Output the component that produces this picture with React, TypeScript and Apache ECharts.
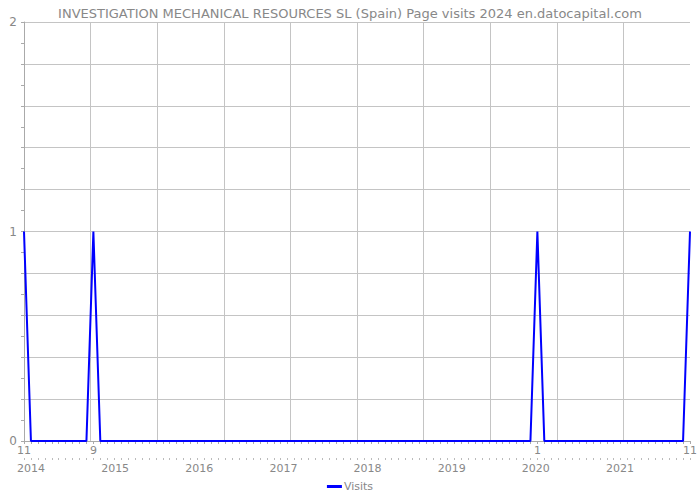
import React, { useEffect, useRef } from "react";
import * as echarts from "echarts";

// Monthly categories, Nov 2013 .. Nov 2021
const START_YEAR = 2013;
const START_MONTH = 11;
const MONTH_COUNT = 97;
const MONTHS: string[] = [];
for (let i = 0; i < MONTH_COUNT; i++) {
  const m0 = START_MONTH - 1 + i;
  const y = START_YEAR + Math.floor(m0 / 12);
  const m = (m0 % 12) + 1;
  MONTHS.push(`${y}-${m < 10 ? "0" + m : m}`);
}

// Page visits per month
const VISITS: number[] = [
  // 2013: Nov, Dec
  1, 0,
  // 2014
  0, 0, 0, 0, 0, 0, 0, 0, 1, 0, 0, 0,
  // 2015
  0, 0, 0, 0, 0, 0, 0, 0, 0, 0, 0, 0,
  // 2016
  0, 0, 0, 0, 0, 0, 0, 0, 0, 0, 0, 0,
  // 2017
  0, 0, 0, 0, 0, 0, 0, 0, 0, 0, 0, 0,
  // 2018
  0, 0, 0, 0, 0, 0, 0, 0, 0, 0, 0, 0,
  // 2019
  0, 0, 0, 0, 0, 0, 0, 0, 0, 0, 0, 0,
  // 2020
  1, 0, 0, 0, 0, 0, 0, 0, 0, 0, 0, 0,
  // 2021: Jan..Nov
  0, 0, 0, 0, 0, 0, 0, 0, 0, 0, 1,
];

const Y_TICKS = [0, 1, 2];
const TITLE = "INVESTIGATION MECHANICAL RESOURCES SL (Spain) Page visits 2024 en.datocapital.com";
const SERIES_NAME = "Visits";

const FONT = "DejaVu Sans";
const TEXT_GREY = "#888888";
const GRID_GREY = "#c4c4c4";
const AXIS_GREY = "#aaaaaa";
const LINE_BLUE = "#0000ff";

export default function App() {
  const ref = useRef<HTMLDivElement>(null);

  useEffect(() => {
    if (!ref.current) return;
    const chart = echarts.init(ref.current, undefined, { renderer: "svg" });
    const isInt = (v: number) => Math.abs(v - Math.round(v)) < 1e-6;

    chart.setOption({
      animation: false,
      backgroundColor: "#ffffff",
      title: {
        text: TITLE,
        left: "center",
        top: 2,
        textStyle: { color: TEXT_GREY, fontSize: 13, fontWeight: "normal", fontFamily: FONT },
      },
      legend: {
        bottom: 3,
        left: "center",
        data: [{ name: SERIES_NAME, icon: "rect" }],
        itemWidth: 15,
        itemHeight: 3,
        itemGap: 10,
        textStyle: { color: TEXT_GREY, fontSize: 11, fontFamily: FONT, padding: [0, 0, 0, -3] },
      },
      grid: { left: 24, right: 8, top: 22, bottom: 59, containLabel: false },
      xAxis: [
        {
          type: "category",
          data: MONTHS,
          boundaryGap: false,
          axisLine: { show: true, lineStyle: { color: AXIS_GREY, width: 1 } },
          axisTick: { show: true, interval: 0, length: 3, lineStyle: { color: AXIS_GREY } },
          axisLabel: {
            interval: (idx: number) => VISITS[idx] > 0,
            formatter: (v: string) => String(parseInt(v.split("-")[1], 10)),
            color: TEXT_GREY,
            fontSize: 11,
            fontFamily: FONT,
            margin: 4,
          },
          splitLine: { show: false },
        },
        {
          type: "category",
          data: MONTHS,
          boundaryGap: false,
          position: "bottom",
          offset: 17,
          axisLine: { show: false },
          axisTick: { show: true, interval: 0, length: 2, lineStyle: { color: "#bbbbbb" } },
          axisLabel: { show: false },
          splitLine: { show: false },
        },
        {
          type: "value",
          position: "bottom",
          offset: 17,
          min: 2013.917,
          max: 2021.832,
          splitNumber: 8,
          minInterval: 1,
          maxInterval: 1,
          axisLine: { show: false },
          axisTick: { show: false },
          axisLabel: {
            formatter: (v: number) => (isInt(v) ? String(Math.round(v)) : ""),
            color: TEXT_GREY,
            fontSize: 11,
            fontFamily: FONT,
            margin: 5,
            showMinLabel: true,
            showMaxLabel: true,
          },
          splitLine: { show: false },
        },
        {
          type: "value",
          position: "top",
          min: 0,
          max: 10,
          interval: 1,
          axisLine: { show: false },
          axisTick: { show: false },
          axisLabel: { show: false },
          splitLine: {
            show: true,
            showMinLine: false,
            showMaxLine: false,
            lineStyle: { color: GRID_GREY, width: 1 },
          },
        },
      ],
      yAxis: {
        type: "value",
        min: 0,
        max: 2,
        interval: 0.2,
        axisLine: { show: true, lineStyle: { color: AXIS_GREY, width: 1 } },
        axisTick: { show: true, length: 3, lineStyle: { color: AXIS_GREY } },
        minorTick: { show: true, splitNumber: 2, length: 3, lineStyle: { color: AXIS_GREY } },
        axisLabel: {
          formatter: (v: number) => (Y_TICKS.some((t) => Math.abs(t - v) < 1e-6) ? String(Math.round(v)) : ""),
          color: TEXT_GREY,
          fontSize: 12,
          fontFamily: FONT,
          margin: 7,
        },
        splitLine: { show: true, lineStyle: { color: GRID_GREY, width: 1 } },
      },
      series: [
        {
          name: SERIES_NAME,
          type: "line",
          xAxisIndex: 0,
          yAxisIndex: 0,
          data: VISITS,
          showSymbol: false,
          symbol: "none",
          lineStyle: { color: LINE_BLUE, width: 2 },
          itemStyle: { color: LINE_BLUE },
        },
      ],
    });

    return () => chart.dispose();
  }, []);

  return <div ref={ref} style={{ width: 700, height: 500, position: "absolute", left: 0, top: 0 }} />;
}
